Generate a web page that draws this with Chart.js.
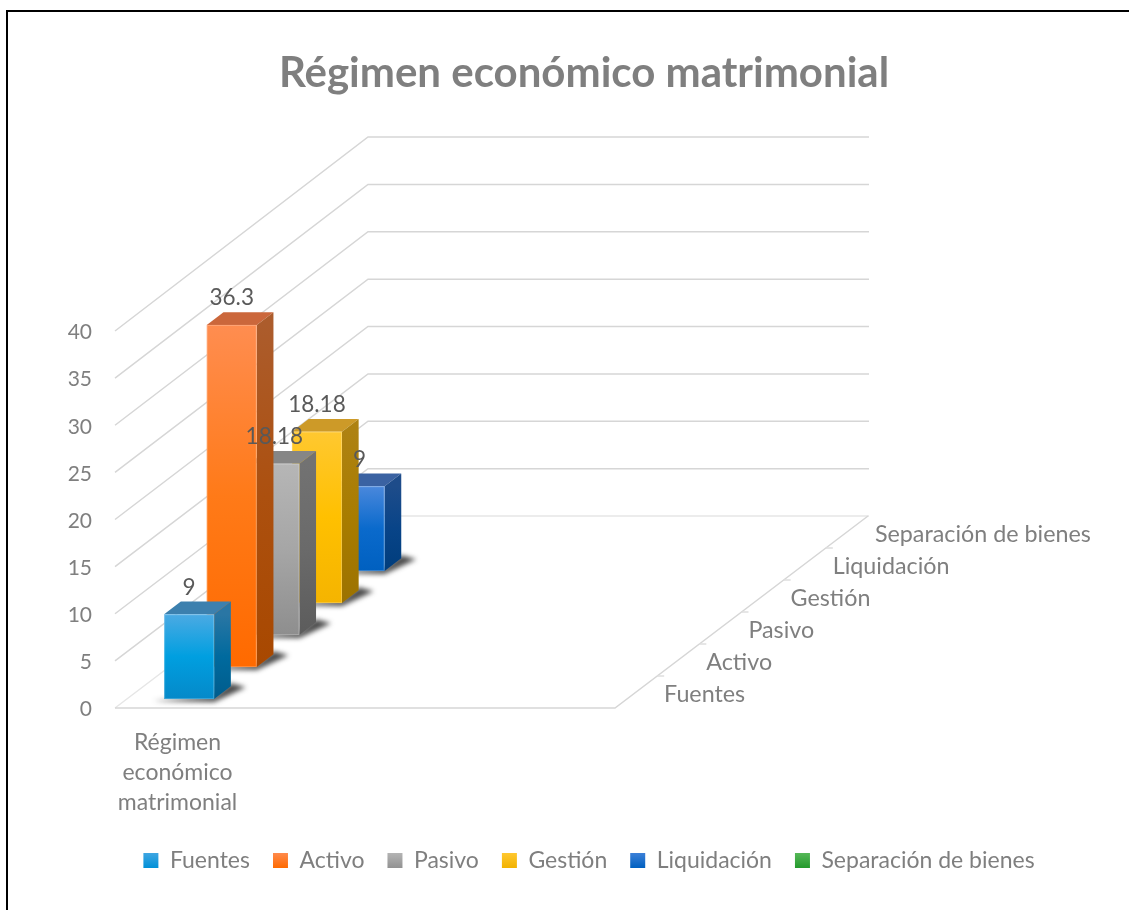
<!DOCTYPE html>
<html>
<head>
<meta charset="utf-8">
<title>Régimen económico matrimonial</title>
<script src="https://cdn.jsdelivr.net/npm/chart.js@4/dist/chart.umd.min.js"></script>
<style>
  html, body { margin: 0; padding: 0; background: #fff; }
  #frame { position: absolute; left: 6px; top: 10px; right: 0; bottom: 0; border-top: 2px solid #000; border-left: 2px solid #000; }
  canvas { position: absolute; left: 0; top: 0; }
</style>
</head>
<body>
<div id="frame"></div>
<canvas id="chart" width="1129" height="910"></canvas>
<script>
const titleText = 'Régimen económico matrimonial';
const categories = [['Régimen', 'económico', 'matrimonial'], '', '', ''];
const seriesNames = ['Fuentes', 'Activo', 'Pasivo', 'Gestión', 'Liquidación', 'Separación de bienes'];
const fuentes = [9];
const activo = [36.3];
const pasivo = [18.18];
const gestion = [18.18];
const liquidacion = [9];
const separacion = [null];
const seriesValues = [fuentes, activo, pasivo, gestion, liquidacion, separacion];
const yTicks = [0, 5, 10, 15, 20, 25, 30, 35, 40];

// front / side / top shades, light to dark
const shades = [
    { front: ['#4caae3', '#009fe0', '#0589c9'], side: ['#2a76a4', '#006a9e', '#005c8c'], top: '#3c80ae', legend: ['#3fa6e2', '#0090d8'] },
    { front: ['#ff8d50', '#ff7a18', '#ff6a00'], side: ['#ac5c2c', '#ac500f', '#a84800'], top: '#cb673b', legend: ['#ff8a4c', '#ff6a00'] },
    { front: ['#b6b6b6', '#a6a6a6', '#8e8e8e'], side: ['#727272', '#6a6a6a', '#5c5c5c'], top: '#868686', legend: ['#b4b4b4', '#929292'] },
    { front: ['#ffc830', '#ffc000', '#f5b400'], side: ['#ae8212', '#a87c00', '#9c7200'], top: '#cd9a28', legend: ['#ffc830', '#f2b200'] },
    { front: ['#4a88dc', '#0a6acc', '#0060c0'], side: ['#1e4c8a', '#084488', '#003d7c'], top: '#3a62a2', legend: ['#3c80d8', '#0060c0'] },
    { front: ['#5cb85c', '#2ea836', '#249a2c'], side: ['#2a6e2e', '#1e6a24', '#186020'], top: '#3d8a41', legend: ['#56b858', '#249a2c'] }
];

const FONT = 'Lato';
const TEXT = '#7f7f7f';
const DEPTH_X = 253;      // floor depth on screen
const DEPTH_Y = 192;
const ROW_DX = 42.6;
const ROW_DY = 32;
const BAR_DX = 16.7;      // depth of one bar
const BAR_DY = 12.7;
const ROWS = seriesNames.length;
const PAD_B = 28;

function poly(ctx, pts) {
    ctx.beginPath();
    pts.forEach((p, i) => i ? ctx.lineTo(p[0], p[1]) : ctx.moveTo(p[0], p[1]));
    ctx.closePath();
}

function vgrad(ctx, y0, y1, stops) {
    const g = ctx.createLinearGradient(0, y0, 0, y1);
    stops.forEach((c, i) => g.addColorStop(i / (stops.length - 1), c));
    return g;
}

// where a series' bar sits once pushed back along the depth axis
function rowOffset(i) {
    return [ROW_DX * (i + 0.5) - BAR_DX / 2 - 1.3, ROW_DY * (i + 0.5) - BAR_DY / 2 - 0.7];
}

const box3d = {
    id: 'box3d',
    afterLayout(chart) {
        // legend sits a little right of the title
        chart.legend.left += 10;
    },
    beforeDatasetsDraw(chart) {
        const { ctx, chartArea: a, scales: { y } } = chart;
        ctx.save();
        ctx.lineWidth = 1.5;
        yTicks.forEach(v => {
            const fy = y.getPixelForValue(v);
            const by = fy - DEPTH_Y - (a.bottom - fy) * 0.0053;
            ctx.strokeStyle = v === 0 ? '#e6e6e6' : '#d6d6d6';
            ctx.beginPath();
            ctx.moveTo(a.left, fy);
            ctx.lineTo(a.left + DEPTH_X, by);
            ctx.lineTo(a.right + DEPTH_X + 1, by);
            ctx.stroke();
        });
        ctx.strokeStyle = '#d6d6d6';
        ctx.beginPath();
        ctx.moveTo(a.left, a.bottom);
        ctx.lineTo(a.right, a.bottom);
        ctx.lineTo(a.right + DEPTH_X, a.bottom - DEPTH_Y);
        ctx.stroke();
        // depth axis tick marks and names
        ctx.font = '23.3px ' + FONT;
        ctx.fillStyle = TEXT;
        ctx.textAlign = 'left';
        ctx.textBaseline = 'middle';
        seriesNames.forEach((name, i) => {
            const px = a.right + DEPTH_X / ROWS * (i + 0.5);
            const py = a.bottom - DEPTH_Y / ROWS * (i + 0.5);
            ctx.fillText(name, px + 28, py + 2);
            if (i < ROWS - 1) {
                const tx = a.right + DEPTH_X / ROWS * (i + 1);
                const ty = a.bottom - DEPTH_Y / ROWS * (i + 1);
                ctx.strokeStyle = '#dedede';
                ctx.beginPath();
                ctx.moveTo(tx, ty);
                ctx.lineTo(tx + 7, ty);
                ctx.stroke();
            }
        });
        ctx.restore();
    },
    beforeDatasetDraw(chart, args) {
        const { ctx } = chart;
        const i = args.index;
        const el = args.meta.data[0];
        if (seriesValues[i][0] == null) return false;
        const [ox, oy] = rowOffset(i);
        const xL = el.x - el.width / 2 + ox;
        const xR = el.x + el.width / 2 + ox;
        const top = el.y - oy;
        const base = el.base - oy;
        const s = shades[i];

        ctx.save();
        ctx.filter = 'blur(2.5px)';
        ctx.fillStyle = 'rgba(30,30,30,0.8)';
        poly(ctx, [[xL - 11, base + 2], [xR, base + 3], [xR + BAR_DX + 15, base - BAR_DY + 1], [xR + BAR_DX, base - BAR_DY - 3], [xR, base - 3]]);
        ctx.fill();
        ctx.restore();

        ctx.save();
        ctx.fillStyle = s.top;
        poly(ctx, [[xL, top], [xR, top], [xR + BAR_DX, top - BAR_DY], [xL + BAR_DX, top - BAR_DY]]);
        ctx.fill();
        ctx.fillStyle = vgrad(ctx, top, base, s.side);
        poly(ctx, [[xR, top], [xR + BAR_DX, top - BAR_DY], [xR + BAR_DX, base - BAR_DY], [xR, base]]);
        ctx.fill();
        ctx.fillStyle = vgrad(ctx, top, base, s.front);
        ctx.fillRect(xL, top, xR - xL, base - top);
        ctx.strokeStyle = 'rgba(255,255,255,0.22)';
        ctx.lineWidth = 1;
        ctx.strokeRect(xL + 0.5, top + 0.5, xR - xL - 1, base - top - 1);
        ctx.restore();
        return false;
    },
    afterDatasetsDraw(chart) {
        const { ctx } = chart;
        ctx.save();
        ctx.font = '22.5px ' + FONT;
        ctx.fillStyle = '#595959';
        ctx.textAlign = 'center';
        ctx.textBaseline = 'middle';
        chart.data.datasets.forEach((ds, i) => {
            const v = ds.data[0];
            if (v == null) return;
            const el = chart.getDatasetMeta(i).data[0];
            const [ox, oy] = rowOffset(i);
            ctx.fillText(String(v), el.x + ox, el.y - oy - BAR_DY - 14);
        });
        ctx.restore();
    }
};

new Chart(document.getElementById('chart').getContext('2d'), {
    type: 'bar',
    plugins: [box3d],
    data: {
        labels: categories,
        datasets: seriesNames.map((name, i) => ({
            label: name,
            data: seriesValues[i],
            backgroundColor: shades[i].front[1],
            grouped: false,
            categoryPercentage: 1,
            barPercentage: 0.4
        }))
    },
    options: {
        responsive: false,
        animation: false,
        events: [],
        layout: { padding: { left: 39, right: 0, top: 0, bottom: PAD_B } },
        plugins: {
            title: {
                display: true,
                text: titleText,
                color: TEXT,
                font: { family: FONT, size: 42, weight: 'bold', lineHeight: 1.2 },
                padding: { top: 48, bottom: 232.6 }
            },
            legend: {
                position: 'bottom',
                labels: {
                    color: TEXT,
                    font: { family: FONT, size: 23 },
                    boxWidth: 15,
                    boxHeight: 15,
                    padding: 23,
                    generateLabels(chart) {
                        const items = Chart.defaults.plugins.legend.labels.generateLabels(chart);
                        items.forEach((it, i) => {
                            it.fillStyle = vgrad(chart.ctx, 853, 868, shades[i].legend);
                            it.lineWidth = 0;
                            it.strokeStyle = 'transparent';
                        });
                        return items;
                    }
                }
            },
            tooltip: { enabled: false }
        },
        scales: {
            x: {
                grid: { display: false },
                border: { display: false },
                afterFit(scale) { scale.height = 910 - PAD_B - scale.chart.legend.height - 708; },
                ticks: {
                    color: TEXT,
                    font: { family: FONT, size: 23, lineHeight: 1.3 },
                    autoSkip: false,
                    maxRotation: 0,
                    padding: 11.5
                }
            },
            y: {
                min: 0,
                max: 40,
                grid: { display: false },
                border: { display: false },
                afterFit(scale) { scale.width = 115 - 39; },
                afterBuildTicks(scale) { scale.ticks = yTicks.map(v => ({ value: v })); },
                ticks: { color: TEXT, font: { family: FONT, size: 21 }, padding: 15, labelOffset: 1.5 }
            },
            // keeps the floor narrower than the canvas, the right side holds the depth axis
            spacer: {
                position: 'right',
                grid: { display: false },
                border: { display: false },
                ticks: { display: false },
                afterFit(scale) { scale.width = 1129 - 615; }
            }
        }
    }
});
</script>
</body>
</html>
